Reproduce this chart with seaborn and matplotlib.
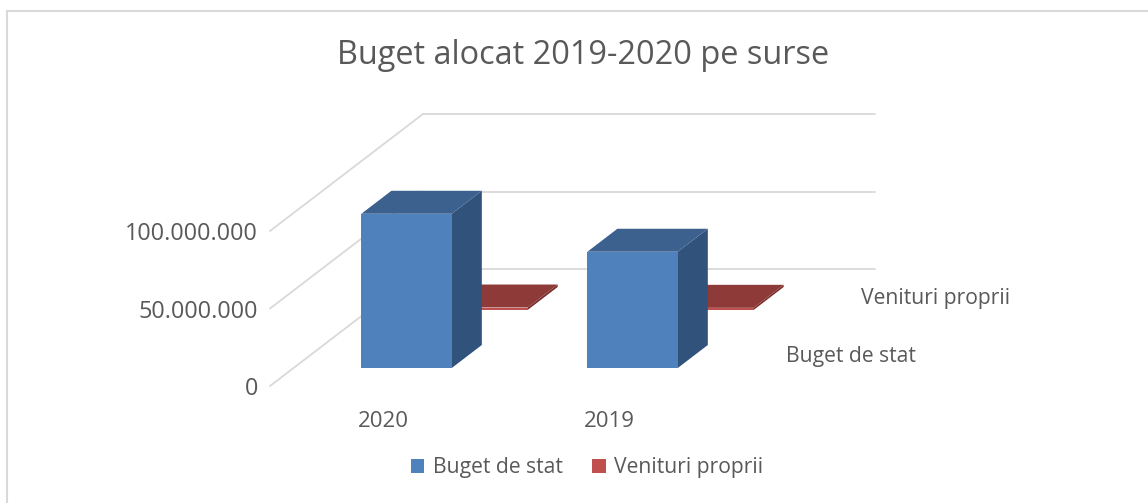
import numpy as np
import pandas as pd
import matplotlib.pyplot as plt
import matplotlib.transforms as mtransforms
from matplotlib.patches import Polygon, Rectangle, Patch
import seaborn as sns

# data
years = ["2020", "2019"]
buget_de_stat = [99_500_000, 75_000_000]
venituri_proprii = [1_600_000, 1_400_000]
series_names = ["Buget de stat", "Venituri proprii"]
y_ticks = [0, 50_000_000, 100_000_000]
title = "Buget alocat 2019-2020 pe surse"

# look
W, H, DPI = 1148, 503, 100
DEPTH = (153, 117)          # full floor depth in pixels (oblique view)
ROW_FRONT = {"Buget de stat": 18 / 117, "Venituri proprii": 76 / 117}
ROW_THICK = 23 / 117
COLORS = {
    "Buget de stat": ("#4f81bd", "#3c618f", "#31527a"),     # front, top, side
    "Venituri proprii": ("#c0504d", "#8e3a38", "#7a2f2d"),
}
GRID = "#d9d9d9"
TEXT = "#595959"
WORD_SIZE = 15.2

df = pd.DataFrame({
    "an": years * 2,
    "sursa": [series_names[0]] * 2 + [series_names[1]] * 2,
    "valoare": buget_de_stat + venituri_proprii,
})

sns.set_theme(style="white")
plt.rcParams["font.family"] = ["Open Sans", "DejaVu Sans"]

fig = plt.figure(figsize=(W / DPI, H / DPI), dpi=DPI)
fig.patch.set_facecolor("white")
ax = fig.add_axes([270 / W, (H - 386) / H, 452 / W, 155 / H])
ax.set_facecolor("none")


def at_depth(x, y, d, extra=(0, 0)):
    px, py = ax.transData.transform((x, y))
    return ax.transData.inverted().transform(
        (px + d * DEPTH[0] + extra[0], py + d * DEPTH[1] + extra[1]))


def shifted(d):
    off = mtransforms.ScaledTranslation(d * DEPTH[0] / DPI, d * DEPTH[1] / DPI,
                                        fig.dpi_scale_trans)
    return ax.transData + off


# back row first so the front row covers it
for k, name in enumerate(["Venituri proprii", "Buget de stat"]):
    front, top, side = COLORS[name]
    sns.barplot(data=df[df["sursa"] == name], x="an", y="valoare", order=years,
                color=front, saturation=1, width=0.4, linewidth=0,
                errorbar=None, ax=ax)
    ax.set_xlim(-0.5, 1.5)
    ax.set_ylim(0, 100_000_000)
    d0 = ROW_FRONT[name]
    d1 = d0 + ROW_THICK
    z = 3 + 3 * k
    for bar in ax.containers[-1]:
        x0, w, h = bar.get_x(), bar.get_width(), bar.get_height()
        x1 = x0 + w
        side_pts = [at_depth(x1, 0, d0), at_depth(x1, h, d0),
                    at_depth(x1, h, d1), at_depth(x1, 0, d1)]
        top_pts = [at_depth(x0, h, d0), at_depth(x1, h, d0),
                   at_depth(x1, h, d1), at_depth(x0, h, d1)]
        ax.add_patch(Polygon(side_pts, closed=True, facecolor=side,
                             edgecolor="none", zorder=z, clip_on=False))
        ax.add_patch(Polygon(top_pts, closed=True, facecolor=top,
                             edgecolor="none", zorder=z, clip_on=False))
        bar.set_transform(shifted(d0))
        bar.set_zorder(z + 1)
        bar.set_clip_on(False)

# walls: back wall gridlines and left wall gridlines
for v in y_ticks:
    a = at_depth(-0.5, v, 1)
    b = at_depth(1.5, v, 1)
    ax.plot([a[0], b[0]], [a[1], b[1]], color=GRID, lw=1.3, zorder=1, clip_on=False)
    ax.plot([-0.5, a[0]], [v, a[1]], color=GRID, lw=1.3, zorder=1, clip_on=False)

ax.set_xlabel("")
ax.set_ylabel("")
ax.grid(False)
for s in ax.spines.values():
    s.set_visible(False)
ax.set_yticks(y_ticks, [f"{v:,}".replace(",", ".") for v in y_ticks])
ax.set_xticks(range(len(years)), years)
ax.tick_params(axis="y", length=0, pad=8.6, labelsize=16.8, labelcolor=TEXT)
ax.tick_params(axis="x", length=0, pad=18, labelsize=16, labelcolor=TEXT)

# depth axis labels on the right
for name in series_names:
    dc = ROW_FRONT[name] + ROW_THICK / 2
    p = at_depth(1.5, 0, dc, extra=(25, 0))
    ax.text(p[0], p[1], name, ha="left", va="center", fontsize=WORD_SIZE,
            color=TEXT, clip_on=False)

fig.text(583 / W, 1 - 56 / H, title, ha="center", va="center",
         fontsize=23.4, color=TEXT)

handles = [Patch(facecolor=COLORS[n][0], edgecolor="none") for n in series_names]
fig.legend(handles, series_names, loc="center", bbox_to_anchor=(587 / W, 1 - 468 / H),
           ncol=2, frameon=False, fontsize=WORD_SIZE, labelcolor=TEXT,
           handlelength=0.65, handleheight=0.65, handletextpad=0.4,
           columnspacing=1.4)

fig.add_artist(Rectangle((7 / W, -0.05), 1.2, 1.05 - 11 / H, transform=fig.transFigure,
                         fill=False, edgecolor=GRID, lw=1.5))

fig.savefig("out.png", dpi=DPI)
